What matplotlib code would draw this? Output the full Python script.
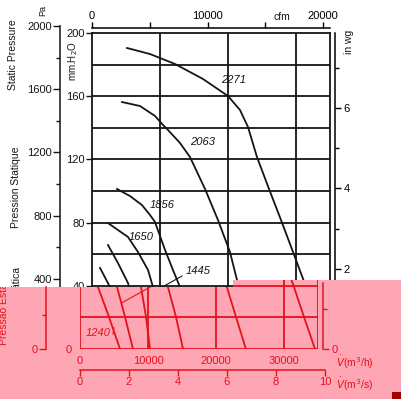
import matplotlib
matplotlib.use('Agg')
import matplotlib.pyplot as plt
from matplotlib.patches import Polygon, Rectangle
from matplotlib.transforms import Bbox, TransformedBbox

W, H = 402, 399
plt.rcParams['font.family'] = ['Liberation Sans', 'DejaVu Sans']

# fan curves: flow (m3/h) vs static pressure (mm H2O)
flow_2271 = [5150, 8530, 12200, 16320, 20000, 21760, 22940, 24260, 26030, 27800, 29560, 31320, 32940, 34560]
pres_2271 = [190.5, 186.7, 180.4, 170.9, 160.1, 151.3, 140.5, 121.5, 101.3, 81.6, 61.4, 41.1, 20.3, 0]
flow_2063 = [4410, 7060, 9260, 10440, 11180, 12940, 14410, 16620, 18530, 20290, 21470, 22940, 24400]
pres_2063 = [156.3, 153.8, 147.5, 141.8, 138.6, 130.4, 121.5, 101.3, 81.6, 61.4, 41.1, 20.3, 0]
flow_1856 = [3680, 5590, 7350, 8530, 9260, 10740, 11910, 12940, 14120, 15150]
pres_1856 = [101.3, 96.8, 91.1, 84.8, 80.4, 62.7, 50.0, 39.2, 20.3, 0]
flow_1650 = [2350, 3820, 5290, 6760, 8240, 8970, 9710, 10300]
pres_1650 = [79.7, 75.3, 70.9, 61.4, 50.0, 39.2, 20.3, 0]
flow_1445 = [2350, 3820, 5290, 6620, 7790]
pres_1445 = [65.8, 54.4, 41.8, 20.3, 0]
flow_1240 = [1180, 2650, 4260, 5880]
pres_1240 = [51.3, 39.2, 20.3, 0]

curves = [(flow_2271, pres_2271), (flow_2063, pres_2063), (flow_1856, pres_1856),
          (flow_1650, pres_1650), (flow_1445, pres_1445), (flow_1240, pres_1240)]
speed_labels = ['2271', '2063', '1856', '1650', '1445']
label_pos = [(20880, 170), (16320, 131), (10290, 91), (7200, 71), (15590, 49.4)]

mm_ticks = [0, 40, 80, 120, 160, 200]
pa_ticks = [0, 400, 800, 1200, 1600, 2000]
wg_ticks = [2, 4, 6]
cfm_ticks = [0, 10000, 20000]
m3h_ticks = [0, 10000, 20000, 30000]
m3s_ticks = [0, 2, 4, 6, 8, 10]

K = '#151515'
RED = '#e4121c'
PINK = '#ffa6b4'
LW = 1.3


def fx(px):
    return px / W


def fy(py):
    return 1 - py / H


fig = plt.figure(figsize=(W / 100, H / 100), dpi=100)
fig.patch.set_facecolor('white')


def frame(ax, color, xmax, ymax):
    ax.set_xlim(0, xmax)
    ax.set_ylim(0, ymax)
    ax.patch.set_visible(False)
    for s in ax.spines.values():
        s.set_color(color)
        s.set_linewidth(LW)
    for y in range(20, 200, 20):
        ax.axhline(y, color=color, lw=LW)
    for x in [10000, 20000, 30000]:
        ax.axvline(x, color=color, lw=LW)
    for fl, pr in curves:
        ax.plot(fl, pr, color=color, lw=LW)
    ax.plot([13240, 6100], [46.2, 29.1], color=color, lw=0.8)


# main chart (black)
ax = fig.add_axes([fx(92), fy(349), 238 / W, 316 / H])
frame(ax, K, 35000, 200)
ax.set_xticks([])
ax.set_yticks(mm_ticks)
ax.tick_params(axis='y', colors=K, length=4, width=1, labelsize=8, pad=1)
for t, (x, y) in zip(speed_labels, label_pos):
    ax.text(x, y, t, fontsize=8, style='italic', ha='center', va='center', color=K)

# Pa axis (as printed on the scan)
axpa = fig.add_axes([fx(60), fy(342), 0.0001, 316 / H])
axpa.patch.set_visible(False)
for s in ['top', 'right', 'bottom']:
    axpa.spines[s].set_visible(False)
axpa.spines['left'].set_linewidth(1.1)
axpa.spines['left'].set_color(K)
axpa.set_ylim(0, 2000)
axpa.set_xticks([])
axpa.set_yticks(pa_ticks)
axpa.set_yticks([200, 600, 1000, 1400, 1800], minor=True)
axpa.tick_params(axis='y', which='major', length=5, width=1, labelsize=8, pad=1, colors=K)
axpa.tick_params(axis='y', which='minor', length=3, width=1, colors=K)

# in wg axis
axwg = fig.add_axes([fx(335), fy(349), 0.0001, 316 / H])
axwg.patch.set_visible(False)
for s in ['top', 'left', 'bottom']:
    axwg.spines[s].set_visible(False)
axwg.spines['right'].set_linewidth(1.1)
axwg.set_ylim(0, 200 / 25.4)
axwg.set_xticks([])
axwg.yaxis.tick_right()
axwg.set_yticks(wg_ticks)
axwg.set_yticks([1, 3, 5, 7], minor=True)
axwg.tick_params(axis='y', which='major', length=4, width=1, labelsize=8, pad=2)
axwg.tick_params(axis='y', which='minor', length=3, width=1)

# cfm axis on top
axc = fig.add_axes([fx(92), fy(28), 238 / W, 0.0001])
axc.patch.set_visible(False)
for s in ['left', 'right', 'bottom']:
    axc.spines[s].set_visible(False)
axc.spines['top'].set_linewidth(1.1)
axc.set_xlim(0, 35000 / 1.699)
axc.set_yticks([])
axc.xaxis.tick_top()
axc.set_xticks(cfm_ticks)
axc.set_xticks([5000, 15000], minor=True)
axc.tick_params(axis='x', which='both', length=4, width=1, labelsize=8, pad=1)
axc.tick_params(axis='x', which='minor', top=True)

# texts of the white part
fig.text(fx(13), fy(55), 'Static Pressure', rotation=90, fontsize=7.5, ha='center', va='center', color=K)
fig.text(fx(16), fy(187), 'Pression Statique', rotation=90, fontsize=7.5, ha='center', va='center', color=K)
fig.text(fx(43), fy(11), 'Pa', rotation=90, fontsize=6.5, ha='center', va='center', color=K)
fig.text(fx(73), fy(61), 'mm.H$_2$O', rotation=90, fontsize=7, ha='center', va='center', color=K)
fig.text(fx(282), fy(17), 'cfm', fontsize=7.5, ha='center', va='center', color=K)
fig.text(fx(349), fy(42), 'in wg', rotation=90, fontsize=7.5, ha='center', va='center', color=K)
fig.text(fx(17), fy(306), 'Pressão Estática', rotation=90, fontsize=7.5,
         ha='center', va='center', color=K, zorder=0.5)

# pink band over the bottom part of the scan
band = Polygon([(fx(0), fy(287)), (fx(233), fy(287)), (fx(233), fy(280)), (fx(402), fy(280)),
                (fx(402), fy(399)), (fx(0), fy(399))], closed=True, transform=fig.transFigure,
               facecolor=PINK, edgecolor='none', zorder=1)
fig.add_artist(band)
fig.add_artist(Rectangle((fx(392), fy(399)), 10 / W, 7 / H, transform=fig.transFigure,
                         facecolor='#a00000', edgecolor='none', zorder=1.5))

# shifted red copy of the lower part
axr = fig.add_axes([fx(80), fy(349), 238 / W, 69 / H])
axr.set_zorder(2)
frame(axr, RED, 35000, 69 / 1.58)
axr.spines['top'].set_visible(False)
axr.set_xticks(m3h_ticks)
axr.set_xticklabels([str(v) for v in m3h_ticks])
axr.set_yticks([0])
axr.tick_params(axis='both', length=0, labelsize=8, colors=RED)
axr.tick_params(axis='x', pad=5)
axr.tick_params(axis='y', pad=6)
axr.text(2650, 10.1, '1240', fontsize=8, style='italic', ha='center', va='center', color=RED)
axr.plot([4850, 5000], [9.5, 13.5], color=RED, lw=0.8)
for a in axr.lines + list(axr.spines.values()):
    a.set_clip_path(band)

axpr = fig.add_axes([fx(46), fy(349), 0.0001, 62 / H])
axpr.set_zorder(2)
axpr.patch.set_visible(False)
for s in ['top', 'right', 'bottom']:
    axpr.spines[s].set_visible(False)
axpr.spines['left'].set_color(RED)
axpr.spines['left'].set_linewidth(1.1)
axpr.set_ylim(0, 62 / 0.17)
axpr.set_xticks([])
axpr.set_yticks([0])
axpr.set_yticks([200], minor=True)
axpr.tick_params(axis='y', which='major', length=5, width=1, labelsize=8, pad=1, colors=RED)
axpr.tick_params(axis='y', which='minor', length=3, width=1, colors=RED)

axwr = fig.add_axes([fx(323), fy(349), 0.0001, 66 / H])
axwr.set_zorder(2)
axwr.patch.set_visible(False)
for s in ['top', 'left', 'bottom']:
    axwr.spines[s].set_visible(False)
axwr.spines['right'].set_color(RED)
axwr.spines['right'].set_linewidth(1.1)
axwr.set_ylim(0, 66 / 1.58 / 25.4)
axwr.set_xticks([])
axwr.yaxis.tick_right()
axwr.set_yticks([0])
axwr.set_yticks([1], minor=True)
axwr.tick_params(axis='y', which='major', length=4, width=1, labelsize=8, pad=2, colors=RED)
axwr.tick_params(axis='y', which='minor', length=3, width=1, colors=RED)

axs = fig.add_axes([fx(80), fy(370), 244.8 / W, 0.0001])
axs.set_zorder(2)
axs.patch.set_visible(False)
for s in ['left', 'right', 'top']:
    axs.spines[s].set_visible(False)
axs.spines['bottom'].set_color(RED)
axs.spines['bottom'].set_linewidth(1.1)
axs.set_xlim(0, 10)
axs.set_yticks([])
axs.set_xticks(m3s_ticks)
axs.tick_params(axis='x', length=4, width=1, labelsize=8, pad=1, colors=RED)

fig.text(fx(355), fy(362), r'$\dot{V}$(m$^3$/h)', fontsize=7.5, ha='center', va='center', color=RED, zorder=3)
fig.text(fx(355), fy(384), r'$\dot{V}$(m$^3$/s)', fontsize=7.5, ha='center', va='center', color=RED, zorder=3)
t_red = fig.text(fx(4), fy(306), 'Pressão Estática', rotation=90, fontsize=7.5,
                 ha='center', va='center', color=RED, zorder=3)
# text is only clipped by a box in Agg, so keep the red copy inside the band
t_red.set_clip_box(TransformedBbox(Bbox([[0, 0], [fx(233), fy(287)]]), fig.transFigure))

fig.savefig('out.png', dpi=100)
